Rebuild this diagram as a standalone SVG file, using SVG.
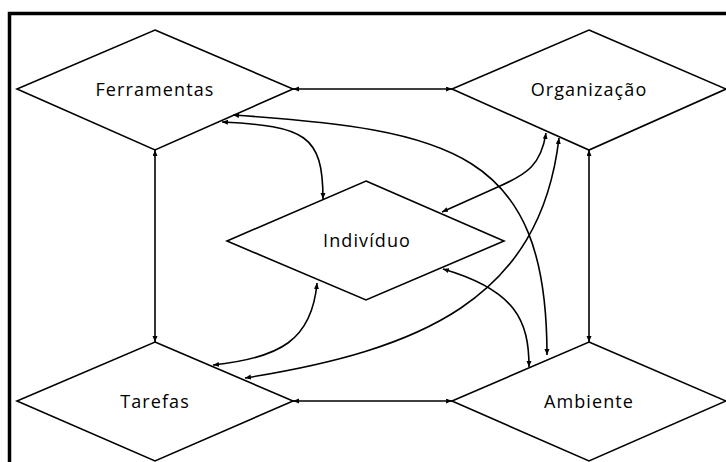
<svg xmlns="http://www.w3.org/2000/svg" width="726" height="462" viewBox="0 0 726 462">
<style>
.node polygon{fill:#fff;stroke:#000;stroke-width:1.6}
.node text{font-family:"Open Sans","Liberation Sans",sans-serif;font-size:18px;letter-spacing:1.1px;fill:#000;text-anchor:middle}
#connectors path{fill:none;stroke:#000;stroke-width:1.6;marker-start:url(#ah);marker-end:url(#ah)}
</style>
<defs>
<marker id="ah" markerUnits="userSpaceOnUse" markerWidth="8" markerHeight="8" refX="6" refY="2.5" orient="auto-start-reverse">
<path d="M0,0 L6,2.5 L0,5 z" fill="#000"/>
</marker>
</defs>
<rect width="726" height="462" fill="#fff"/>
<path d="M9.5,462 V13.5 H726" fill="none" stroke="#000" stroke-width="3.5"/>
<g id="ferramentas" class="node">
<polygon points="155,30 293,89 155,150 17,89"/>
<text x="155" y="96">Ferramentas</text>
</g>
<g id="organizacao" class="node">
<polygon points="589,30 726,89 589,150 452,89"/>
<text x="589" y="96">Organização</text>
</g>
<g id="individuo" class="node">
<polygon points="366,181 504,241 366,300 227,241"/>
<text x="367" y="247">Indivíduo</text>
</g>
<g id="tarefas" class="node">
<polygon points="155,342 293,401 155,461 17,401"/>
<text x="155" y="408">Tarefas</text>
</g>
<g id="ambiente" class="node">
<polygon points="589,342 726,401 589,461 452,401"/>
<text x="589" y="408">Ambiente</text>
</g>
<g id="connectors">
<path d="M293,89 H452"/>
<path d="M293,401 H452"/>
<path d="M155,150 V342"/>
<path d="M589,150 V342"/>
<path d="M323,199 C323,135 305,126 222,122"/>
<path d="M233,115 C450,130 547,150 547,355"/>
<path d="M317,283 C312,340 280,358 213,365"/>
<path d="M245,378 C420,350 540,300 559,138"/>
<path d="M546,133 C541,165 527,174 500,186 L442,212"/>
<path d="M529,367 C529,320 515,290 443,269"/>
</g>
</svg>
